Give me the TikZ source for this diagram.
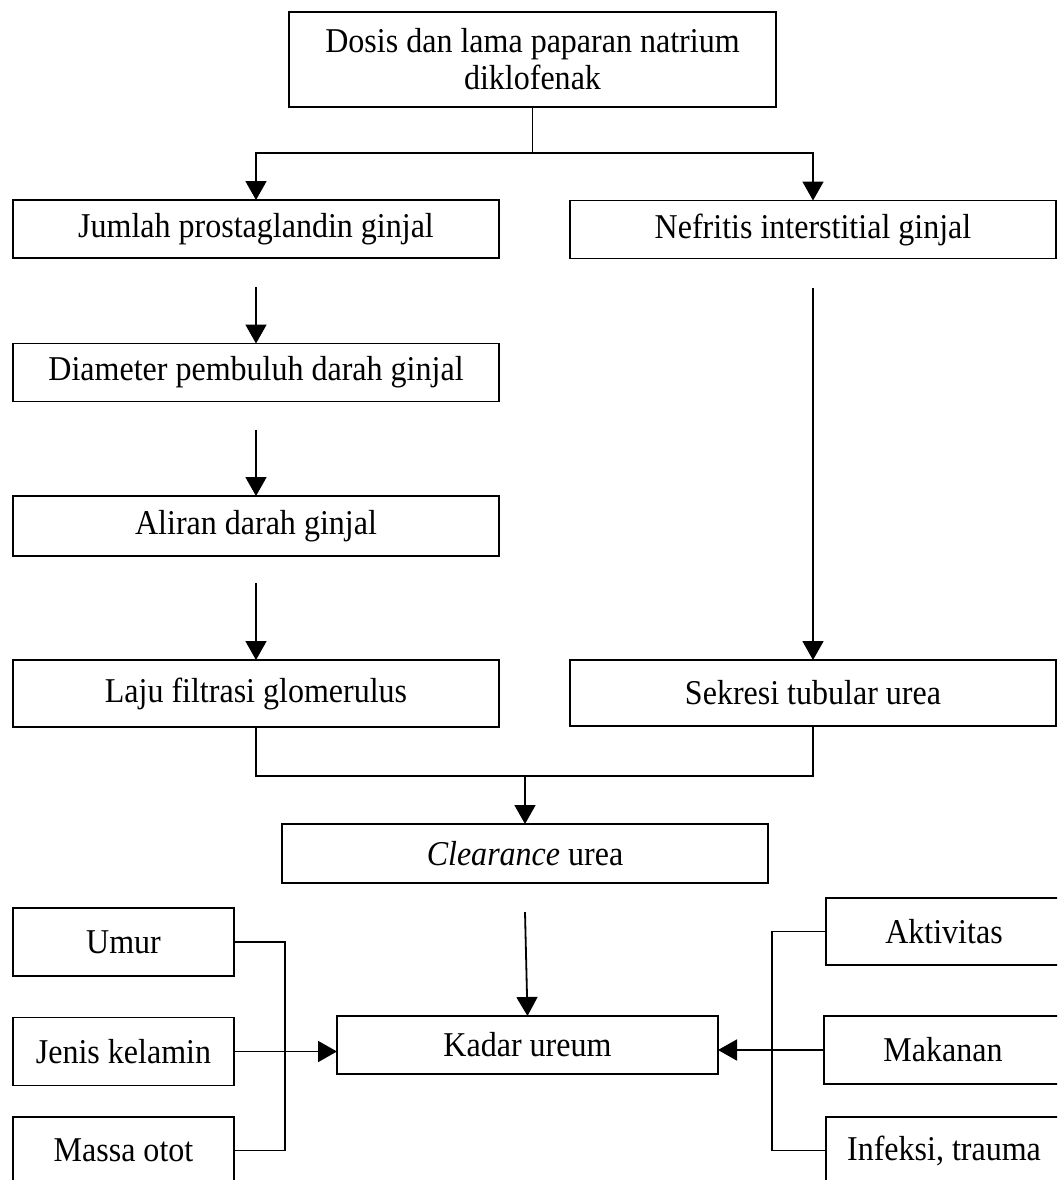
\documentclass[tikz,border=0pt]{standalone}
\usepackage{fontspec}
\setmainfont{Liberation Serif}[FakeStretch=0.92]
\usetikzlibrary{arrows.meta,calc}

\begin{document}
\begin{tikzpicture}[x=0.5pt,y=-0.5pt,line width=0.9pt,
    kotak/.style={draw,black,inner sep=0pt,outer sep=0pt,
      minimum width=243pt,minimum height=29pt,
      font=\fontsize{17.4}{18.5}\selectfont},
    kecil/.style={kotak,minimum width=110.5pt,minimum height=34pt},
    panah/.style={-{Triangle[width=10.5pt,length=9.5pt]}}]
  \useasboundingbox (0,0) rectangle (1057,1180);
  \clip (0,0) rectangle (1057,1180);
  % Boxes
  \node[kotak,minimum width=243.5pt,minimum height=47.5pt,align=center] (dosis) at (532.5,59.5)
    {Dosis dan lama paparan natrium\\diklofenak};
  \node[kotak] (prost) at (256,229) {Jumlah prostaglandin ginjal};
  \node[kotak] (diam) at (256,372.5) {Diameter pembuluh darah ginjal};
  \node[kotak,minimum height=30pt] (aliran) at (256,526) {Aliran darah ginjal};
  \node[kotak,minimum height=33.5pt] (laju) at (256,693.5) {Laju filtrasi glomerulus};
  \node[kotak] (nefritis) at (813,229.5) {Nefritis interstitial ginjal};
  \node[kotak,minimum height=33pt] (sekresi) at (813,693) {Sekresi tubular urea};
  \node[kotak,minimum height=29.5pt] (clear) at (525,853.5) {\textit{Clearance} urea};
  \node[kotak,minimum width=190.5pt] (kadar) at (527.5,1045) {Kadar ureum};
  % Faktor kiri
  \node[kecil] (umur) at (123.5,942) {Umur};
  \node[kecil] (jenis) at (123.5,1051.5) {Jenis kelamin};
  \node[kecil,minimum height=33.5pt] (massa) at (123.5,1150.5) {Massa otot};
  % Faktor kanan
  \node[kecil,minimum width=118pt,minimum height=33.5pt] (aktiv) at (944,931.5) {Aktivitas};
  \node[kecil,minimum width=119pt] (makan) at (943,1050) {Makanan};
  \node[kecil,minimum width=118pt,minimum height=33.5pt] (infeksi) at (944,1150.5) {Infeksi, trauma};
  % Arrows
  \coordinate (cabang) at ($(dosis.south)+(0,46)$);
  \draw (dosis.south) -- (cabang);
  \draw[panah] (cabang) -| (prost.north);
  \draw[panah] (cabang) -| (nefritis.north);
  \draw[panah] ($(prost.south)+(0,29)$) -- (diam.north);
  \draw[panah] ($(diam.south)+(0,28)$) -- (aliran.north);
  \draw[panah] ($(aliran.south)+(0,27)$) -- (laju.north);
  \draw[panah] ($(nefritis.south)+(0,29)$) -- (sekresi.north);
  \coordinate (gabung) at ($(laju.south)+(0,49)$);
  \draw (laju.south) -- (gabung) -| (sekresi.south);
  \draw[panah] (gabung -| clear.north) -- (clear.north);
  \draw[panah] ($(clear.south)+(0,29)$) -- (kadar.north);
  \draw (umur.east) -- ++(51,0) |- (massa.east);
  \draw[panah] (jenis.east) -- (jenis.east -| kadar.west);
  \draw (aktiv.west) -- ++(-54,0) |- (infeksi.west);
  \draw[panah] (makan.west) -- (makan.west -| kadar.east);
\end{tikzpicture}
\end{document}
